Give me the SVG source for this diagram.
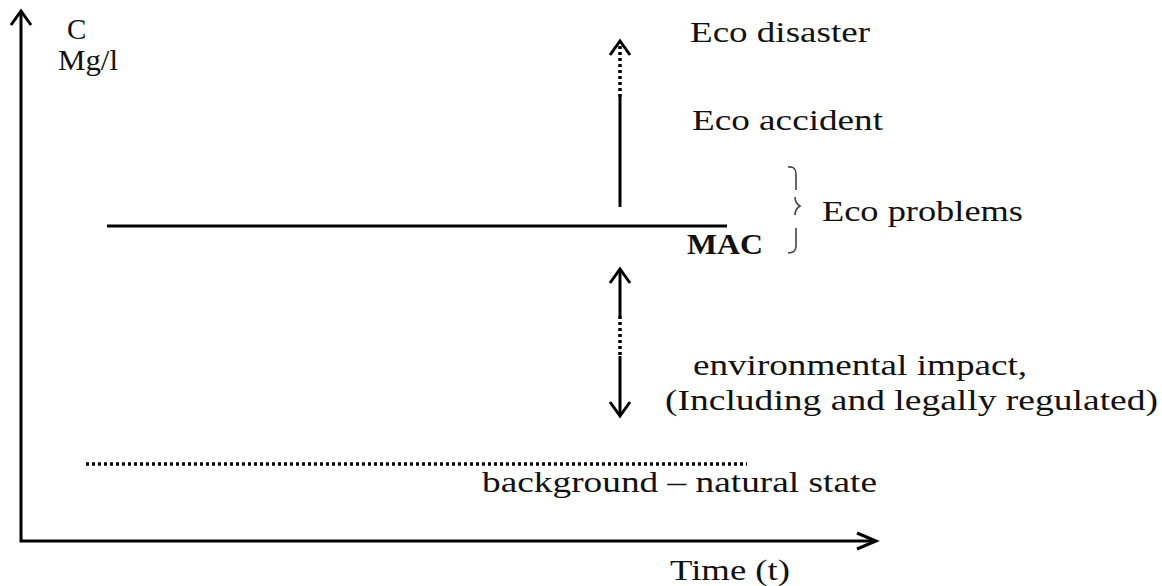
<svg xmlns="http://www.w3.org/2000/svg" width="1162" height="586" viewBox="0 0 1162 586">
<style>
text{font-family:'Liberation Serif','Times New Roman',Times,serif;font-size:29px;fill:#111}
.ax{stroke:#000;stroke-width:3;fill:none}
.ln{stroke:#000;stroke-width:3;fill:none}
.dot{stroke:#000;stroke-width:3.5;fill:none;stroke-dasharray:3 3}
.head{stroke:#000;stroke-width:3;fill:none;stroke-linejoin:miter}
</style>
<g id="axes">
<path class="ax" d="M21,12 L21,541 L876,541"/>
<path class="head" d="M11,25 L21,11 L31,25"/>
<path class="head" d="M857,533 L876,541 L857,549"/>
</g>
<g id="axis-labels">
<text x="67" y="39" font-size="22" font-family="Liberation Serif, serif">C</text>
<text x="58" y="70" font-size="25" textLength="60" lengthAdjust="spacingAndGlyphs" font-family="Liberation Serif, serif">Mg/l</text>
<text x="670" y="580" textLength="120" lengthAdjust="spacingAndGlyphs" font-family="Liberation Serif, serif">Time (t)</text>
</g>
<g id="mac">
<path class="ln" d="M107,226 L727,226"/>
<text x="687" y="254" font-size="23" font-weight="bold" textLength="76" lengthAdjust="spacingAndGlyphs" font-family="Liberation Serif, serif">MAC</text>
</g>
<g id="background">
<path class="dot" d="M86,464 L747,464" stroke-width="3" stroke-dasharray="3 4"/>
<text x="482" y="492" textLength="395" lengthAdjust="spacingAndGlyphs" font-family="Liberation Serif, serif">background – natural state</text>
</g>
<g id="connectors">
<path class="dot" d="M620,46 L620,97"/>
<path class="ln" d="M620,97 L620,207"/>
<path class="head" d="M610,55 L620,41 L630,55"/>
<path class="ln" d="M620,270 L620,316"/>
<path class="dot" d="M620,316 L620,356"/>
<path class="ln" d="M620,356 L620,414"/>
<path class="head" d="M610,283 L620,269 L630,283"/>
<path class="head" d="M610,402 L620,416 L630,402"/>
</g>
<g id="eco-disaster">
<text x="690" y="42" textLength="180" lengthAdjust="spacingAndGlyphs" font-family="Liberation Serif, serif">Eco disaster</text>
</g>
<g id="eco-accident">
<text x="692" y="130" textLength="191" lengthAdjust="spacingAndGlyphs" font-family="Liberation Serif, serif">Eco accident</text>
</g>
<g id="eco-problems">
<path d="M788,167 Q796,166 796,174 L796,190 M795,197 Q795,203 800,206 Q795,209 795,215 M796,228 L796,246 Q796,253 788,253" stroke="#444" stroke-width="1.6" fill="none"/>
<text x="822" y="221" textLength="201" lengthAdjust="spacingAndGlyphs" font-family="Liberation Serif, serif">Eco problems</text>
</g>
<g id="impact">
<text x="693" y="375" textLength="334" lengthAdjust="spacingAndGlyphs" font-family="Liberation Serif, serif">environmental impact,</text>
<text x="665" y="410" textLength="493" lengthAdjust="spacingAndGlyphs" font-family="Liberation Serif, serif">(Including and legally regulated)</text>
</g>
</svg>
